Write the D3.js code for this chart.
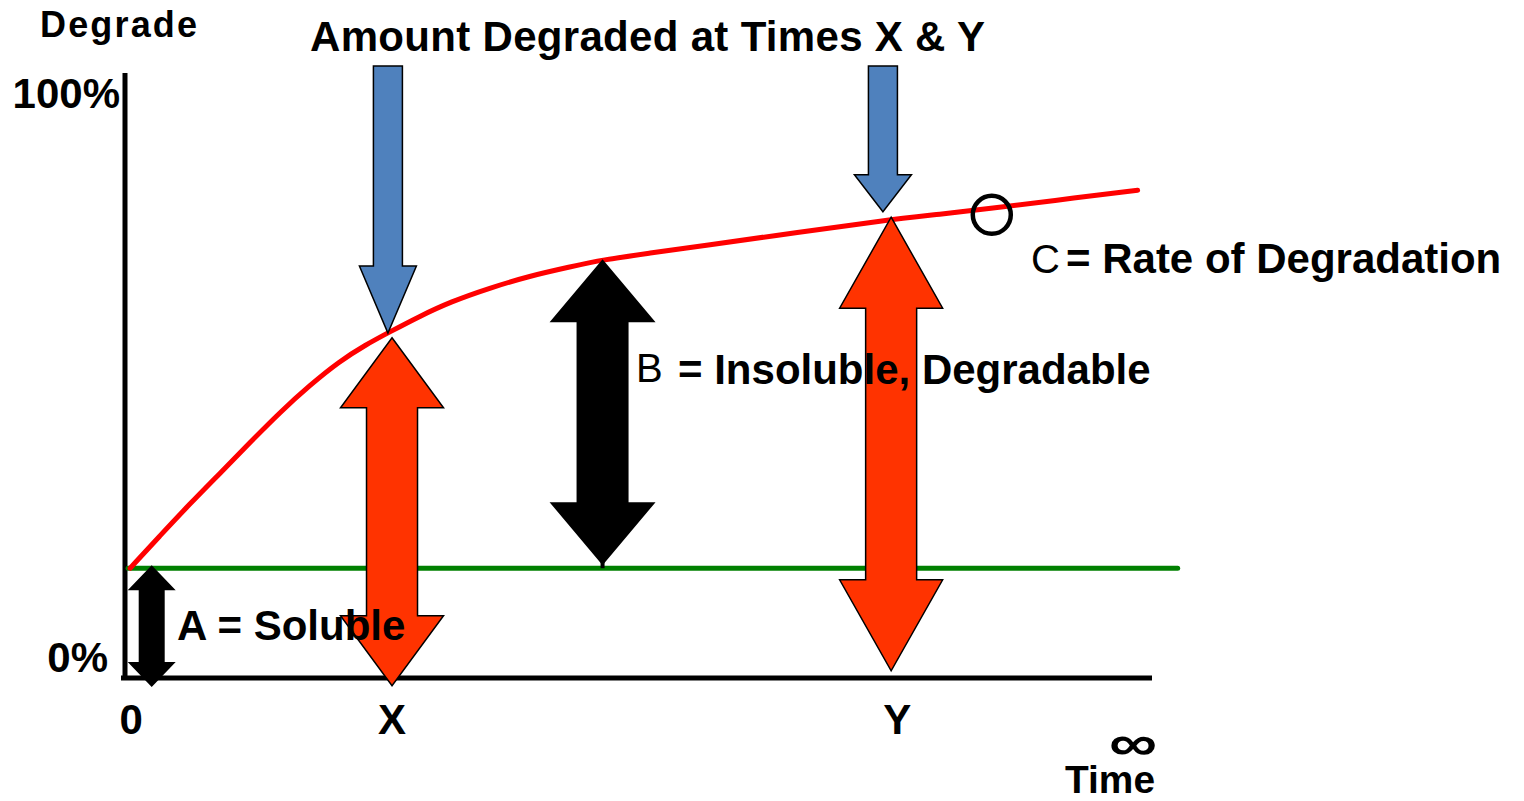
<!DOCTYPE html>
<html>
<head>
<meta charset="utf-8">
<script src="https://cdn.jsdelivr.net/npm/d3@7"></script>
<style>
  body { margin: 0; background: #fff; }
  svg { display: block; }
  text { font-family: "Liberation Sans", Arial, sans-serif; }
</style>
</head>
<body>
<div id="graph1"></div>
<script>
// values (time in % of the x axis, degradation in %)
var curveTime = [0.5, 3.4, 6.3, 9.3, 12.2, 15.1, 18.0, 20.9, 23.4, 25.8, 28.7, 31.7, 35.5, 39.4, 43.3, 46.5, 51.1, 56.0, 65.7, 74.0, 79.4, 84.4, 90.1, 98.6];
var curveDegraded = [18.3, 23.7, 29.0, 34.2, 39.3, 44.3, 48.8, 52.8, 55.5, 57.7, 60.3, 62.7, 65.0, 67.0, 68.5, 69.7, 70.8, 72.0, 74.3, 76.3, 77.3, 78.3, 79.5, 81.3];
var solubleLevel = 18.3;
var solubleStart = 0.3, solubleEnd = 102.5;

var xTickLabels = ["0", "X", "Y"];
var xTickTimes = [0.6, 26.0, 75.2];
var yTickLabels = ["0%", "100%"];
var yTickValues = [0, 100];

var blueArrowTimes = [25.6, 73.8];
var blueArrowTop = [102, 102];
var blueArrowTip = [57.5, 77.7];

var redArrowTimes = [26.0, 74.6];
var redArrowTop = [56.7, 76.8];
var redArrowBottom = [-1.3, 1.2];

var blackArrowTimes = [2.6, 46.5];
var blackArrowTop = [18.8, 69.8];
var blackArrowBottom = [-1.5, 18.8];

var rateMarkTime = 84.4, rateMarkValue = 77.2;

var width = 1524, height = 801;

var svg = d3.select("#graph1")
    .append("svg")
    .attr("width", width)
    .attr("height", height);

var x = d3.scaleLinear().domain([0, 100]).range([125, 1152]);
var y = d3.scaleLinear().domain([0, 100]).range([678, 78]);

// arrow outline, centre cx, from yTop to yBot, head lengths h1 (top) and h2 (bottom)
function arrowPoints(cx, yTop, yBot, sw, hw, h1, h2) {
    var pts = [];
    if (h1 > 0) {
        pts.push([cx, yTop], [cx + hw / 2, yTop + h1], [cx + sw / 2, yTop + h1]);
    } else {
        pts.push([cx - sw / 2, yTop], [cx + sw / 2, yTop]);
    }
    if (h2 > 0) {
        pts.push([cx + sw / 2, yBot - h2], [cx + hw / 2, yBot - h2], [cx, yBot],
            [cx - hw / 2, yBot - h2], [cx - sw / 2, yBot - h2]);
    } else {
        pts.push([cx + sw / 2, yBot], [cx - sw / 2, yBot]);
    }
    if (h1 > 0) {
        pts.push([cx - sw / 2, yTop + h1], [cx - hw / 2, yTop + h1]);
    }
    return pts;
}
var outline = d3.line().curve(d3.curveLinearClosed);

// axes
svg.append("line")
    .attr("x1", x(0)).attr("x2", x(0))
    .attr("y1", y(100) - 5).attr("y2", y(0) + 2)
    .attr("stroke", "#000").attr("stroke-width", 5);
svg.append("line")
    .attr("x1", x(0) - 4).attr("x2", x(100))
    .attr("y1", y(0)).attr("y2", y(0))
    .attr("stroke", "#000").attr("stroke-width", 5);

// soluble fraction
svg.append("line")
    .attr("x1", x(solubleStart)).attr("x2", x(solubleEnd))
    .attr("y1", y(solubleLevel)).attr("y2", y(solubleLevel))
    .attr("stroke", "#008000").attr("stroke-width", 5)
    .attr("stroke-linecap", "round");

// degradation curve
var line = d3.line()
    .x(function (d, i) { return x(curveTime[i]); })
    .y(function (d) { return y(d); })
    .curve(d3.curveBasis);
svg.append("path")
    .attr("d", line(curveDegraded))
    .attr("fill", "none")
    .attr("stroke", "#ff0000")
    .attr("stroke-width", 5)
    .attr("stroke-linecap", "round");

// blue "at time" arrows
var blueHead = [67, 37];
svg.selectAll("blueArrows")
    .data(blueArrowTimes)
    .enter()
    .append("path")
    .attr("d", function (d, i) {
        return outline(arrowPoints(x(d), y(blueArrowTop[i]), y(blueArrowTip[i]), 29, 57, 0, blueHead[i]));
    })
    .attr("fill", "#4f81bd")
    .attr("stroke", "#000")
    .attr("stroke-width", 1.5);

// red "amount degraded" arrows
var redHead = [70, 91];
svg.selectAll("redArrows")
    .data(redArrowTimes)
    .enter()
    .append("path")
    .attr("d", function (d, i) {
        return outline(arrowPoints(x(d), y(redArrowTop[i]), y(redArrowBottom[i]), 51, 103, redHead[i], redHead[i]));
    })
    .attr("fill", "#ff3300")
    .attr("stroke", "#000")
    .attr("stroke-width", 1.5);

// black A and B arrows
var blackShaft = [26, 52], blackHeadW = [48, 106], blackHead = [25, 63];
svg.selectAll("blackArrows")
    .data(blackArrowTimes)
    .enter()
    .append("path")
    .attr("d", function (d, i) {
        return outline(arrowPoints(x(d), y(blackArrowTop[i]), y(blackArrowBottom[i]), blackShaft[i], blackHeadW[i], blackHead[i], blackHead[i]));
    })
    .attr("fill", "#000");
svg.append("line")
    .attr("x1", x(blackArrowTimes[1])).attr("x2", x(blackArrowTimes[1]))
    .attr("y1", y(blackArrowBottom[1]) - 4).attr("y2", y(solubleLevel))
    .attr("stroke", "#000").attr("stroke-width", 4);

// rate mark
svg.append("circle")
    .attr("cx", x(rateMarkTime)).attr("cy", y(rateMarkValue))
    .attr("r", 19)
    .attr("fill", "none")
    .attr("stroke", "#000")
    .attr("stroke-width", 4.5);

// tick labels
var yOffsets = [-6, 30];
svg.selectAll("yLabels")
    .data(yTickLabels)
    .enter()
    .append("text")
    .attr("x", function (d, i) { return i === 0 ? 108 : 120; })
    .attr("y", function (d, i) { return y(yTickValues[i]) + yOffsets[i]; })
    .attr("text-anchor", "end")
    .style("font-size", "42px")
    .style("font-weight", "bold")
    .text(function (d) { return d; });

svg.selectAll("xLabels")
    .data(xTickLabels)
    .enter()
    .append("text")
    .attr("x", function (d, i) { return x(xTickTimes[i]); })
    .attr("y", y(0) + 56)
    .attr("text-anchor", "middle")
    .style("font-size", "42px")
    .style("font-weight", "bold")
    .text(function (d) { return d; });

// axis titles
svg.append("text")
    .attr("x", 40).attr("y", 37)
    .attr("textLength", 157)
    .attr("lengthAdjust", "spacing")
    .style("font-size", "36px")
    .style("font-weight", "bold")
    .text("Degrade");
svg.append("text")
    .attr("x", 1065).attr("y", 793)
    .attr("textLength", 90)
    .attr("lengthAdjust", "spacingAndGlyphs")
    .style("font-size", "38px")
    .style("font-weight", "bold")
    .text("Time");
svg.append("text")
    .attr("transform", "translate(1133,760) scale(1.35,1)")
    .attr("text-anchor", "middle")
    .style("font-size", "50px")
    .style("font-weight", "bold")
    .text("\u221E");

// title
svg.append("text")
    .attr("x", 310).attr("y", 51)
    .attr("textLength", 675)
    .attr("lengthAdjust", "spacing")
    .style("font-size", "42px")
    .style("font-weight", "bold")
    .text("Amount Degraded at Times X & Y");

// annotations
svg.append("text")
    .attr("x", 177).attr("y", 640)
    .style("font-size", "42px").style("font-weight", "bold")
    .text("A = Soluble");
svg.append("text")
    .attr("x", 636).attr("y", 382)
    .style("font-size", "40px")
    .text("B");
svg.append("text")
    .attr("x", 678).attr("y", 384)
    .style("font-size", "42px").style("font-weight", "bold")
    .text("= Insoluble, Degradable");
svg.append("text")
    .attr("x", 1031).attr("y", 273)
    .style("font-size", "40px")
    .text("C");
svg.append("text")
    .attr("x", 1066).attr("y", 273)
    .style("font-size", "42px").style("font-weight", "bold")
    .text("= Rate of Degradation");
</script>
</body>
</html>
